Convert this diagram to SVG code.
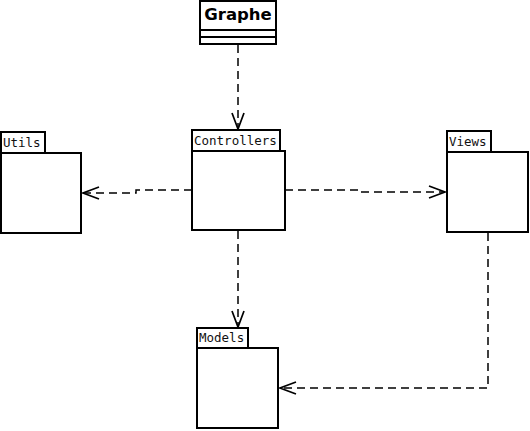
<svg xmlns="http://www.w3.org/2000/svg" width="530" height="431" viewBox="0 0 530 431">
<style>
.box{fill:#fff;stroke:#000;stroke-width:2}
.lbl{font-family:"DejaVu Sans Mono",monospace;font-size:12.5px;fill:#111}
.title{font-family:"DejaVu Sans",sans-serif;font-weight:bold;font-size:16.5px;fill:#000}
.dep{fill:none;stroke:#000;stroke-width:1.5;stroke-dasharray:8,5}
.head{fill:none;stroke:#000;stroke-width:1.7}
</style>
<rect width="530" height="431" fill="#fff"/>
<g id="connectors">
<path class="dep" d="M238,45 V128"/>
<path class="head" d="M232,113 L238,129 L244,113"/>
<path class="dep" d="M192,190 H136 V193 H83"/>
<path class="head" d="M99,187 L83,193 L99,199"/>
<path class="dep" d="M285,190 H360 V192 H445"/>
<path class="head" d="M429,186 L445,192 L429,198"/>
<path class="dep" d="M238,231 V326"/>
<path class="head" d="M232,311 L238,327 L244,311"/>
<path class="dep" d="M488,233 V388 H280"/>
<path class="head" d="M296,382 L280,388 L296,394"/>
</g>
<g id="graphe">
<rect class="box" x="200" y="1" width="76" height="43"/>
<line x1="200" y1="30" x2="276" y2="30" stroke="#000" stroke-width="2"/>
<line x1="200" y1="37" x2="276" y2="37" stroke="#000" stroke-width="2"/>
<text class="title" x="238" y="20" text-anchor="middle">Graphe</text>
</g>
<g id="controllers">
<rect class="box" x="192" y="130" width="88" height="21"/>
<rect class="box" x="192" y="151" width="93" height="79"/>
<text class="lbl" x="194" y="145">Controllers</text>
</g>
<g id="utils">
<rect class="box" x="1" y="132" width="44" height="21"/>
<rect class="box" x="1" y="153" width="80" height="80"/>
<text class="lbl" x="3" y="147">Utils</text>
</g>
<g id="views">
<rect class="box" x="447" y="131" width="44" height="21"/>
<rect class="box" x="447" y="152" width="81" height="80"/>
<text class="lbl" x="449" y="146">Views</text>
</g>
<g id="models">
<rect class="box" x="197" y="328" width="51" height="20"/>
<rect class="box" x="197" y="348" width="81" height="80"/>
<text class="lbl" x="199" y="342">Models</text>
</g>
</svg>
